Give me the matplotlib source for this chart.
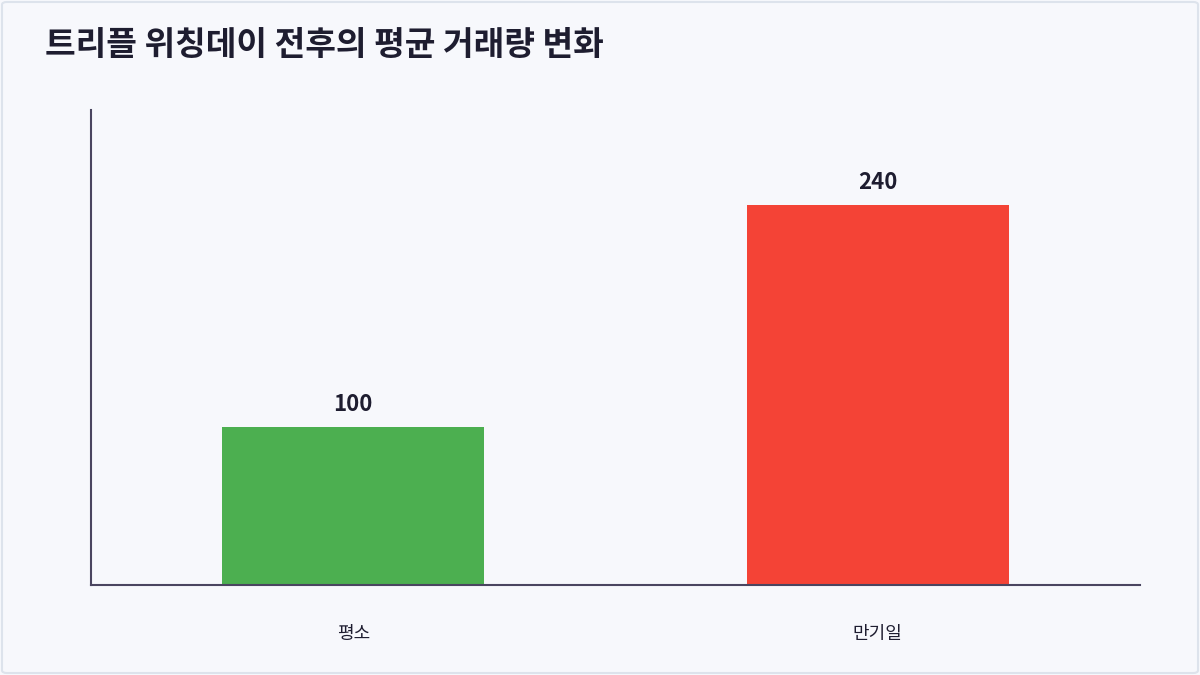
import matplotlib
matplotlib.use("Agg")
import matplotlib.pyplot as plt
from matplotlib.patches import FancyBboxPatch

plt.rcParams['font.family'] = ['Noto Sans CJK KR', 'DejaVu Sans']

title = "트리플 위칭데이 전후의 평균 거래량 변화"
categories = ["평소", "만기일"]
values = [100, 240]
colors = ["#4caf50", "#f44336"]

bg = "#f7f8fc"
text_color = "#1e1d30"
axis_color = "#4a4560"

fig = plt.figure(figsize=(12, 6.75), dpi=100)
fig.patch.set_facecolor(bg)
border = FancyBboxPatch((2/1200, 2/675), 1196/1200, 671/675,
                        boxstyle="round,pad=0,rounding_size=0.004",
                        transform=fig.transFigure, facecolor="none",
                        edgecolor="#dde3ec", linewidth=1.5)
fig.patches.append(border)

ax = fig.add_axes([91/1200, (675-585)/675, 1049/1200, 475/675])
ax.set_facecolor(bg)
x = range(len(categories))
bars = ax.bar(x, values, width=0.5, color=colors, zorder=2)
ax.set_xlim(-0.5, 1.5)
ax.set_ylim(0, 300)
for s in ["top", "right"]:
    ax.spines[s].set_visible(False)
for s in ["left", "bottom"]:
    ax.spines[s].set_color(axis_color)
    ax.spines[s].set_linewidth(1.5)
ax.set_yticks([])
ax.set_xticks(list(x))
ax.set_xticklabels(categories, fontsize=13, color=text_color, fontweight="medium")
ax.tick_params(axis='x', length=0, pad=29)
for xi, v in zip(x, values):
    ax.annotate(f"{v}", (xi, v), xytext=(0, 8), textcoords="offset points",
                ha="center", va="bottom", fontsize=16, fontweight="bold",
                color=text_color)

fig.text(45/1200, 1 - 45/675, title, fontsize=24, fontweight="bold",
         color=text_color, ha="left", va="center")

fig.savefig("out.png", dpi=100, facecolor=bg)
